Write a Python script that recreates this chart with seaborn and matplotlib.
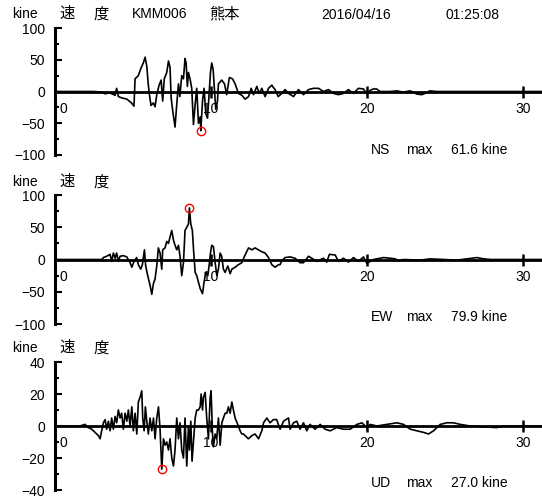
import numpy as np
import matplotlib
matplotlib.use("Agg")
import matplotlib.pyplot as plt
import matplotlib.transforms as mtransforms
from matplotlib.ticker import MultipleLocator, FixedLocator, NullLocator
import seaborn as sns

ns_t = [0, 1.9, 2.5, 3.0, 3.2, 3.5, 3.85, 3.95, 4.06, 4.27, 4.6, 4.9, 5.06, 5.13, 5.34, 5.51, 5.66, 5.77,
        5.88, 5.98, 6.05, 6.15, 6.3, 6.41, 6.52, 6.67, 6.8, 6.9, 7.0, 7.16, 7.27, 7.37, 7.44, 7.54, 7.69,
        7.8, 7.91, 8.0, 8.12, 8.23, 8.33, 8.4, 8.48, 8.55, 8.65, 8.76, 8.87, 8.98, 9.08, 9.19, 9.3, 9.34,
        9.45, 9.55, 9.66, 9.77, 9.87, 9.96, 10.04, 10.13, 10.21, 10.3, 10.41, 10.47, 10.68, 10.86, 11.0,
        11.17, 11.37, 11.54, 11.75, 11.97, 12.18, 12.4, 12.57, 12.72, 12.93, 13.08, 13.25, 13.46, 13.68,
        13.89, 14.0, 14.1, 14.3, 14.53, 14.74, 14.96, 15.28, 15.6, 15.92, 16.24, 16.56, 16.88, 17.2, 17.52,
        17.84, 18.16, 18.48, 18.8, 19.12, 19.44, 19.76, 19.98, 20.2, 20.4, 20.6, 20.83, 21.47, 21.9, 22.3,
        22.76, 23.18, 23.5, 23.8, 24.0, 24.46, 31.2]
ns_v = [0, 0, 0, -1, -3.7, -2, -6, 5, -8, -10, -12, -18, -23, 20, 25, 37, 45, 54,
        40, 10, -5, -22, -18, -24, -5, 10, 18, -15, 20, 30, 48, 38, -10, -30, -56,
        -20, 12, -8, 25, 20, 52, 45, 8, 30, 20, 5, -52, -20, 5, -50, -40, -61.6,
        -15, 5, -35, -42, -5, 30, 45, 35, 5, -28, -15, 12, 18, 12, -5,
        22, 20, 12, -3, -6, -12, -8, 5, -5, 8, -3, 5, -8, 5,
        10, 6, 3, -8, -3, 3, -3, -8, 3, -5, 3, 5, 5, 0, 3,
        -3, -5, -3, 3, -3, 5, 4, -4, 2, 4, 4, 0, 0, 1, -1,
        1, -4, -5, -2, 1, 0, 0]

ew_t = [0, 3.0, 3.1, 3.31, 3.53, 3.63, 3.74, 3.85, 3.95, 4.06, 4.17, 4.38, 4.6, 4.81, 4.92, 5.06, 5.23,
        5.34, 5.49, 5.6, 5.73, 5.81, 5.94, 6.09, 6.2, 6.3, 6.41, 6.52, 6.62, 6.73, 6.84, 6.9, 7.05, 7.16,
        7.27, 7.37, 7.48, 7.59, 7.69, 7.8, 7.91, 8.01, 8.12, 8.23, 8.33, 8.44, 8.55, 8.61, 8.7, 8.8, 8.89,
        8.98, 9.08, 9.19, 9.3, 9.45, 9.55, 9.66, 9.79, 9.87, 9.96, 10.04, 10.15, 10.26, 10.37, 10.47,
        10.58, 10.68, 10.79, 10.9, 11.07, 11.22, 11.33, 11.54, 11.75, 11.97, 12.14, 12.4, 12.61, 12.82,
        13.03, 13.25, 13.46, 13.68, 13.89, 14.1, 14.32, 14.42, 14.53, 14.74, 15.06, 15.38, 15.7, 15.92,
        16.24, 16.45, 16.77, 17.2, 17.41, 17.58, 17.95, 18.16, 18.48, 18.8, 19.12, 19.44, 19.76, 19.98,
        20.19, 20.4, 21.05, 21.47, 21.8, 22.0, 22.33, 23.4, 24.04, 24.9, 25.75, 27.03, 27.46, 27.9, 31.2]
ew_v = [0, 0, 3, 5, 8, -3, 10, 2, 10, -3, 5, 6, 4, -5, -12, -3, 3,
        -8, -15, -8, 15, -10, -25, -40, -54, -38, -30, -10, 18, 10, -15, 15, 18, 28,
        25, 35, 45, 30, 22, 15, 22, 5, -25, -5, 45, 50, 55, 79.9, 55, 45, 10,
        -20, -25, -35, -45, -53, -35, -20, -25, -10, 10, 22, 20, -5, -25, -15,
        10, 5, -15, -20, -10, -22, -15, -12, -8, -5, 5, 18, 15, 18,
        15, 12, 10, 3, -8, -12, -8, -8, -2, 3, 4, 2, -5, -5,
        5, 2, -3, 2, -4, 8, 7, -3, 2, -4, 3, -3, 4, -6,
        -3, 0, 3, 2, 1, -2, 0, -1, 1, 0, -1, 3, 1, 0, 0]

ud_t = [0, 1.6, 1.92, 2.14, 2.35, 2.56, 2.78, 2.89, 2.99, 3.1, 3.21, 3.31, 3.42, 3.53, 3.63, 3.74, 3.85,
        3.95, 4.06, 4.17, 4.27, 4.38, 4.49, 4.6, 4.7, 4.81, 4.92, 5.02, 5.13, 5.24, 5.34, 5.45, 5.56, 5.62,
        5.71, 5.79, 5.88, 5.98, 6.09, 6.2, 6.31, 6.41, 6.52, 6.63, 6.73, 6.84, 6.95, 7.05, 7.16, 7.27, 7.37,
        7.48, 7.59, 7.69, 7.8, 7.91, 8.01, 8.12, 8.23, 8.33, 8.44, 8.55, 8.61, 8.7, 8.78, 8.87, 8.98, 9.08,
        9.19, 9.3, 9.36, 9.45, 9.51, 9.62, 9.72, 9.83, 9.94, 10.0, 10.09, 10.15, 10.26, 10.36, 10.47, 10.58,
        10.69, 10.79, 10.9, 11.01, 11.11, 11.22, 11.33, 11.43, 11.54, 11.75, 11.86, 11.97, 12.07, 12.18,
        12.39, 12.61, 12.82, 13.04, 13.25, 13.36, 13.57, 13.78, 13.99, 14.2, 14.42, 14.64, 14.96, 15.06,
        15.28, 15.49, 15.7, 15.92, 16.13, 16.34, 16.66, 16.99, 17.3, 17.63, 18.05, 18.48, 18.91, 19.34,
        19.66, 19.98, 20.19, 20.62, 21.26, 21.9, 22.33, 22.76, 23.18, 23.61, 23.93, 24.25, 24.68, 25.1,
        25.53, 25.96, 26.6, 28.3, 28.74, 31.2]
ud_v = [0, 0, 1, -1, -2, -4, -6, -8, -3, 2, 4, -2, 3, -3, 5, -2, 6,
        2, 10, 5, 8, -2, 8, 3, 10, 0, 12, -3, 8, -5, 15, 18, 22, 5,
        -3, 12, 3, -5, 5, -3, 5, -8, 5, 12, -2, -27, -8, -12, -10, -15, -8,
        -20, -25, -15, 5, -8, 2, -15, -20, 5, -25, 0, -15, 3, -22, -10, 5, 10,
        10, 12, 20, 10, 18, 21, 5, -8, 18, 22, -5, -13, -5, -8, 5, -12,
        2, 5, 8, 8, 12, 8, 15, 10, 5, 0, -3, -5, -5, -6,
        -8, -6, -5, -8, -3, 2, 5, 2, 4, 4, -2, 3, 5, -2,
        2, 3, -2, 2, -3, 1, -2, 1, -2, -3, -1, -2, -2, 1,
        2, -1, 1, 0, 1, 2, 1, -2, -3, -4, -5, -3, 1, 2,
        2, 1, 0, -1, 0, 0]

componentes = ["NS", "EW", "UD"]
limites = [100, 100, 40]
tiempos = [ns_t, ew_t, ud_t]
valores = [ns_v, ew_v, ud_v]

W, H = 542, 499
# (borde superior, borde inferior, y del encabezado, y de la etiqueta max) en pixeles
cajas = [(28, 155, 14, 150), (195, 324, 182, 317), (362, 490, 348, 483)]

sns.set_style("white")
plt.rcParams["font.family"] = ["Liberation Sans", "Noto Sans CJK JP"]
for k in ["text.color", "axes.edgecolor", "xtick.color", "ytick.color", "axes.labelcolor"]:
    plt.rcParams[k] = "black"

fig = plt.figure(figsize=(W / 100, H / 100), dpi=100)
fs = 10

for comp, lim, t, v, (top, bot, yh, ym) in zip(componentes, limites, tiempos, valores, cajas):
    ax = fig.add_axes([55 / W, 1 - bot / H, 1 - 55 / W, (bot - top) / H])
    ax.patch.set_alpha(0)
    sns.lineplot(x=t, y=v, ax=ax, color="black", linewidth=1.2, estimator=None, sort=False)

    i = int(np.argmax(np.abs(v)))
    ax.plot(t[i], v[i], marker="o", ms=6, mfc="none", mec="red", mew=1, zorder=5)

    ax.set_xlim(0, 31.2)
    ax.set_ylim(-lim, lim)
    ax.set_xlabel("")
    ax.set_ylabel("")
    ax.spines["top"].set_visible(False)
    ax.spines["right"].set_visible(False)
    ax.spines["bottom"].set_position(("data", 0))
    ax.spines["bottom"].set_linewidth(2)
    ax.spines["left"].set_linewidth(2.2)
    ax.set_axisbelow(True)

    ax.xaxis.set_major_locator(FixedLocator([0, 10, 20, 30]))
    ax.xaxis.set_minor_locator(NullLocator())
    ax.set_xticklabels(["0", "10", "20", "30"])
    ax.yaxis.set_major_locator(MultipleLocator(lim / 2))
    ax.yaxis.set_minor_locator(MultipleLocator(lim / 4))
    ax.tick_params(axis="x", which="both", bottom=True, top=False)
    ax.tick_params(axis="y", which="both", left=True, right=False)
    ax.tick_params(axis="x", which="major", direction="inout", length=9, width=1.8, pad=3, labelsize=fs)
    ax.tick_params(axis="y", which="major", direction="in", length=5, width=1.5, pad=7, labelsize=fs)
    ax.tick_params(axis="y", which="minor", direction="in", length=3, width=1.5)

    lab0 = ax.get_xticklabels()[0]
    lab0.set_transform(lab0.get_transform() + mtransforms.ScaledTranslation(8 / 100, 0, fig.dpi_scale_trans))

    # encabezado
    fig.text(12 / W, 1 - yh / H, "kine", fontsize=fs, va="center")
    fig.text(59 / W, 1 - yh / H, "速", fontsize=fs + 1, va="center")
    fig.text(93 / W, 1 - yh / H, "度", fontsize=fs + 1, va="center")

    # etiqueta de maximo
    fig.text(371 / W, 1 - ym / H, comp, fontsize=fs, va="center")
    fig.text(406 / W, 1 - ym / H, "max", fontsize=fs, va="center")
    fig.text(451 / W, 1 - ym / H, f"{abs(v[i]):.1f} kine", fontsize=fs, va="center")

fig.text(132 / W, 1 - 14 / H, "KMM006", fontsize=fs, va="center")
fig.text(209 / W, 1 - 14 / H, "熊本", fontsize=fs + 1, va="center")
fig.text(321 / W, 1 - 15 / H, "2016/04/16", fontsize=fs, va="center")
fig.text(446 / W, 1 - 15 / H, "01:25:08", fontsize=fs, va="center")

fig.savefig("out.png", dpi=100)
